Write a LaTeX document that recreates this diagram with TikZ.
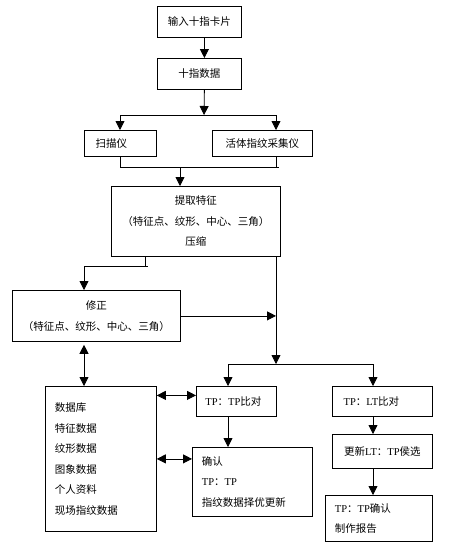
\documentclass[tikz,border=0pt]{standalone}
\usepackage{fontspec}
\setmainfont{Liberation Serif}
\newfontfamily\cjk{Noto Sans CJK SC}
\newfontfamily\latfont{Liberation Serif}
\newcommand\lat[1]{{\latfont #1}}
\usetikzlibrary{arrows.meta}
\begin{document}
\begin{tikzpicture}[x=1pt,y=-1pt,
  box/.style={draw, line width=0.8pt, inner sep=0pt, anchor=north west,
    font=\cjk\fontsize{10.5}{20.5}\selectfont},
  lbox/.style={box, align=left, inner xsep=9.5pt},
  cbox/.style={box, align=center},
  ln/.style={line width=0.8pt},
  arr/.style={ln, -{Triangle[width=9pt,length=9pt]}},
  darr/.style={ln, {Triangle[width=9pt,length=9pt]}-{Triangle[width=9pt,length=9pt]}}]
\useasboundingbox (0,0) rectangle (452,546);
\fill[white] (0,0) rectangle (452,546);

\node[cbox, minimum width=84pt, minimum height=31pt] (b1) at (157,6) {输入十指卡片};
\node[cbox, minimum width=84pt, minimum height=31pt] (b2) at (157,58) {十指数据};
\node[cbox, minimum width=72pt, minimum height=26pt] (scan) at (84,130) {扫描仪\hspace{18pt}};
\node[cbox, minimum width=100pt, minimum height=26pt] (live) at (212,130) {活体指纹采集仪};
\node[cbox, minimum width=169pt, minimum height=70pt] (ext) at (111,186) {提取特征\\（特征点、纹形、中心、三角）\\压缩};
\node[cbox, minimum width=168pt, minimum height=51pt] (fix) at (12,290) {修正\\（特征点、纹形、中心、三角）};
\node[lbox, text width=92pt, minimum height=145pt] (db) at (45,386) {数据库\\特征数据\\纹形数据\\图象数据\\个人资料\\现场指纹数据};
\node[cbox, minimum width=80pt, minimum height=30pt] (tptp) at (196,386) {\lat{TP}：\lat{TP}比对\hspace{6pt}};
\node[lbox, text width=101pt, minimum height=69pt] (conf) at (192,447) {确认\\\lat{TP}：\lat{TP}\\指纹数据择优更新};
\node[cbox, minimum width=100pt, minimum height=30pt] (tplt) at (332,386) {\lat{TP}：\lat{LT}比对\hspace{22pt}};
\node[cbox, minimum width=100pt, minimum height=34pt] (upd) at (332,434) {更新\lat{LT}：\lat{TP}侯选};
\node[lbox, text width=88pt, minimum height=46pt] (rep) at (325,495) {\lat{TP}：\lat{TP}确认\\制作报告};

% top
\draw[arr] ([xshift=5pt]b1.south) -- ([xshift=5pt]b2.north);
\coordinate (s1) at (204,115);
\coordinate (s1l) at (120,115);
\coordinate (s1r) at (276,115);
\draw[arr] ([xshift=5pt]b2.south) -- (s1);
\draw[ln] (s1l) -- (s1r);
\draw[arr] (s1l) -- (s1l |- scan.north);
\draw[arr] (s1r) -- (s1r |- live.north);

% merge
\coordinate (m1l) at (120,167);
\coordinate (m1r) at (279,167);
\coordinate (m1) at (180,167);
\draw[ln] (m1l |- scan.south) -- (m1l) -- (m1r);
\draw[ln] (276,0 |- live.south) -- (276,167);
\draw[arr] (m1) -- (m1 |- ext.north);

% ext to fix
\coordinate (e1) at (145,266);
\coordinate (e1l) at (84,266);
\draw[ln] (e1 |- ext.south) -- (e1) -- (e1l);
\draw[ln] (e1) -- (148,266);
\draw[arr] (e1l) -- (e1l |- fix.north);

% ext down to split
\coordinate (s2) at (276,364);
\coordinate (s2l) at (228,364);
\coordinate (s2r) at (373,364);
\draw[arr] (s2 |- ext.south) -- (s2);
\draw[ln] (s2l) -- (s2r);
\draw[arr] (s2l) -- (s2l |- tptp.north);
\draw[arr] (s2r) -- (s2r |- tplt.north);

% fix to vertical line
\draw[arr] (fix.east) -- (fix.east -| s2);

% fix <-> db
\coordinate (v1) at (84,0);
\draw[darr, shorten <=3pt] (v1 |- fix.south) -- (v1 |- db.north);

% db <-> tptp, db <-> conf
\draw[darr] ([yshift=6pt]tptp.west -| db.east) -- ([yshift=6pt]tptp.west);
\draw[darr] (db.east) -- (db.east -| conf.west);

% tptp -> conf
\draw[arr] (s2l |- tptp.south) -- (s2l |- conf.north);

% right column
\draw[arr] (s2r |- tplt.south) -- (s2r |- upd.north);
\draw[arr] (s2r |- upd.south) -- (s2r |- rep.north);
\end{tikzpicture}
\end{document}
